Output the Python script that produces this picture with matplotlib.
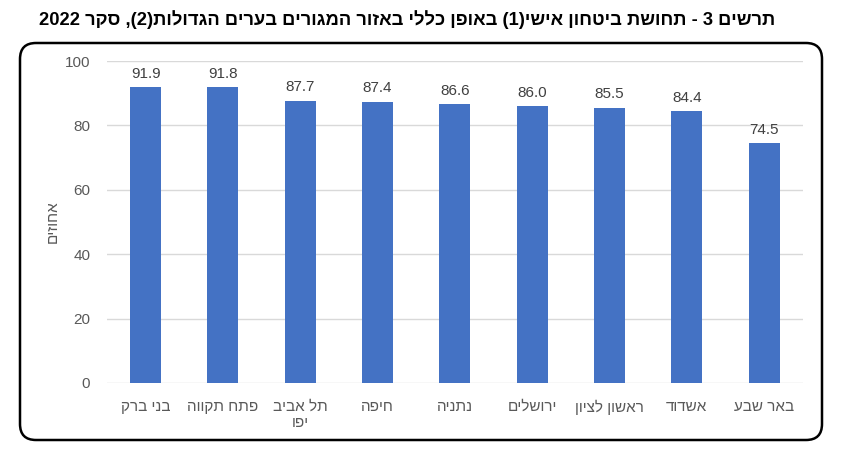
"""Bar chart: personal safety feeling in large cities, 2022."""
import re

import matplotlib
matplotlib.use('Agg')
from matplotlib import pyplot as plt
from matplotlib.patches import FancyBboxPatch

plt.rcParams['font.family'] = ['Liberation Sans', 'DejaVu Sans']

title = 'תרשים 3 - תחושת ביטחון אישי(1) באופן כללי באזור המגורים בערים הגדולות(2), סקר 2022'
y_label = 'אחוזים'
cities = ['בני ברק', 'פתח תקווה', 'תל אביב\nיפו', 'חיפה', 'נתניה',
          'ירושלים', 'ראשון לציון', 'אשדוד', 'באר שבע']
values = [91.9, 91.8, 87.7, 87.4, 86.6, 86.0, 85.5, 84.4, 74.5]
y_ticks = [0, 20, 40, 60, 80, 100]


def rtl(text):
    """Turn logical-order Hebrew into visual order, since matplotlib has no bidi."""
    lines = []
    for line in text.split('\n'):
        rev = line[::-1]
        rev = re.sub(r'[0-9.]+', lambda m: m.group(0)[::-1], rev)
        rev = rev.translate(str.maketrans('()', ')('))
        lines.append(rev)
    return '\n'.join(lines)


fig = plt.figure(figsize=(8.45, 4.57), dpi=100)

# rounded frame around the chart
frame = FancyBboxPatch((0.20, 0.17), 8.02, 3.97,
                       boxstyle='round,pad=0,rounding_size=0.16',
                       transform=fig.dpi_scale_trans, fill=False,
                       edgecolor='black', linewidth=1.8)
fig.patches.append(frame)

fig.text(0.482, 0.958, rtl(title), ha='center', va='center',
         fontsize=13.2, fontweight='bold', color='black')

ax = fig.add_axes([0.1266, 0.162, 0.8234, 0.7045])
x = range(len(cities))
bars = ax.bar(x, values, width=0.4, color='#4472C4', zorder=3)

for xi, v in zip(x, values):
    ax.text(xi, v + 2.0, f'{v:.1f}', ha='center', va='bottom',
            fontsize=11, color='#404040')

ax.set_xlim(-0.5, len(cities) - 0.5)
ax.set_ylim(0, 100)
ax.set_yticks(y_ticks)
ax.set_xticks(list(x))
ax.set_xticklabels([rtl(c) for c in cities], linespacing=1.25)
ax.tick_params(axis='both', length=0, labelcolor='#595959', labelsize=11)
ax.tick_params(axis='x', pad=12)
ax.tick_params(axis='y', pad=12)
ax.grid(axis='y', color='#d9d9d9', linewidth=1, zorder=0)
for s in ax.spines.values():
    s.set_visible(False)

ax.set_ylabel(rtl(y_label), fontsize=11, color='#595959', labelpad=4)

fig.savefig('out.png', dpi=100)
